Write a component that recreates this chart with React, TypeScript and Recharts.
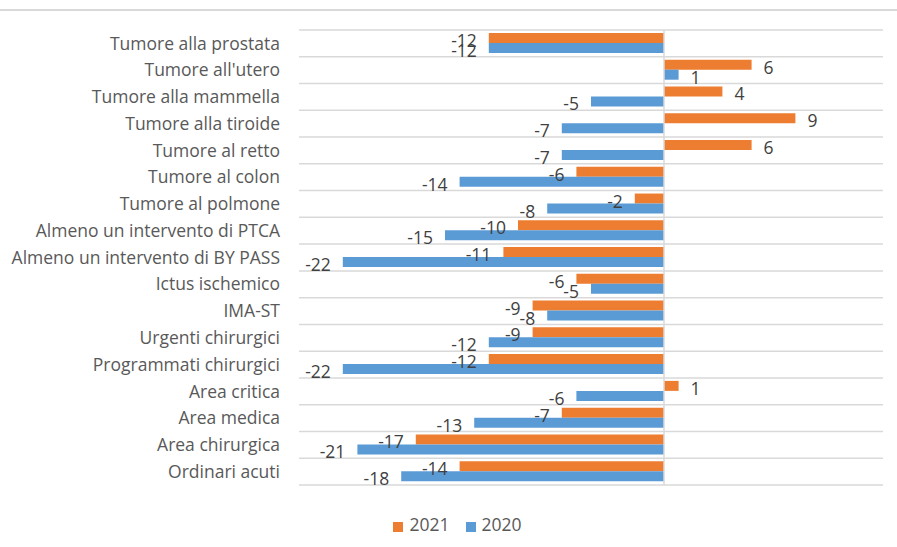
import React from 'react';
import { BarChart, Bar, XAxis, YAxis, CartesianGrid, ReferenceLine, Legend, LabelList } from 'recharts';

const categories = [
  'Tumore alla prostata',
  "Tumore all'utero",
  'Tumore alla mammella',
  'Tumore alla tiroide',
  'Tumore al retto',
  'Tumore al colon',
  'Tumore al polmone',
  'Almeno un intervento di PTCA',
  'Almeno un intervento di BY PASS',
  'Ictus ischemico',
  'IMA-ST',
  'Urgenti chirurgici',
  'Programmati chirurgici',
  'Area critica',
  'Area medica',
  'Area chirurgica',
  'Ordinari acuti',
];

const values2021 = [-12, 6, 4, 9, 6, -6, -2, -10, -11, -6, -9, -9, -12, 1, -7, -17, -14];
const values2020 = [-12, 1, -5, -7, -7, -14, -8, -15, -22, -5, -8, -12, -22, -6, -13, -21, -18];

const data = categories.map((name, i) => ({ name, y2021: values2021[i], y2020: values2020[i] }));

const FONT = '"Open Sans", "Noto Sans", sans-serif';
const FS = 17.5;

const renderLabel = (props: any) => {
  const { x, y, width, height, value } = props;
  const x0 = Number(x);
  const w = Number(width);
  const end = value < 0 ? Math.min(x0, x0 + w) : Math.max(x0, x0 + w);
  const tx = value < 0 ? end - 12 : end + 12;
  return (
    <text
      x={tx}
      y={Number(y) + Number(height) / 2 + 2}
      textAnchor={value < 0 ? 'end' : 'start'}
      dominantBaseline="central"
      fill="#404040"
      fontSize={FS}
      fontFamily={FONT}
    >
      {value}
    </text>
  );
};

const gridGen = ({ offset }: any) => {
  const n = categories.length;
  return Array.from({ length: n + 1 }, (_, i) => offset.top + (i * offset.height) / n);
};

const legendOrder = ['2021', '2020'];

export default function App() {
  return (
    <div style={{ position: 'absolute', left: 0, top: 0, width: 897, height: 547, background: '#fff' }}>
      <div style={{ position: 'absolute', left: 0, top: 9, width: 897, height: 2, background: '#d9d9d9' }} />
      <BarChart
        width={897}
        height={547}
        layout="vertical"
        data={data}
        margin={{ top: 30, right: 14, bottom: 38, left: 0 }}
        barCategoryGap="11%"
        barGap={0}
        style={{ fontFamily: FONT }}
      >
        <CartesianGrid vertical={false} stroke="#d9d9d9" strokeWidth={1.5} horizontalCoordinatesGenerator={gridGen} />
        <XAxis type="number" domain={[-25, 15]} hide />
        <YAxis
          type="category"
          dataKey="name"
          width={299}
          axisLine={false}
          tickLine={false}
          tickMargin={13}
          interval={0}
          tick={{ fill: '#595959', fontSize: FS, fontFamily: FONT }}
        />
        <ReferenceLine x={0} stroke="#d9d9d9" strokeWidth={1.5} />
        <Legend
          verticalAlign="bottom"
          iconType="square"
          iconSize={10}
          itemSorter={(item: any) => legendOrder.indexOf(String(item.value))}
          wrapperStyle={{ bottom: 11, paddingLeft: 24 }}
          formatter={(v: any) => (
            <span style={{ color: '#595959', fontSize: FS, fontFamily: FONT, marginLeft: 2, marginRight: 6 }}>{v}</span>
          )}
        />
        <Bar dataKey="y2021" name="2021" fill="#ED7D31" isAnimationActive={false}>
          <LabelList dataKey="y2021" content={renderLabel} />
        </Bar>
        <Bar dataKey="y2020" name="2020" fill="#5B9BD5" isAnimationActive={false}>
          <LabelList dataKey="y2020" content={renderLabel} />
        </Bar>
      </BarChart>
    </div>
  );
}
